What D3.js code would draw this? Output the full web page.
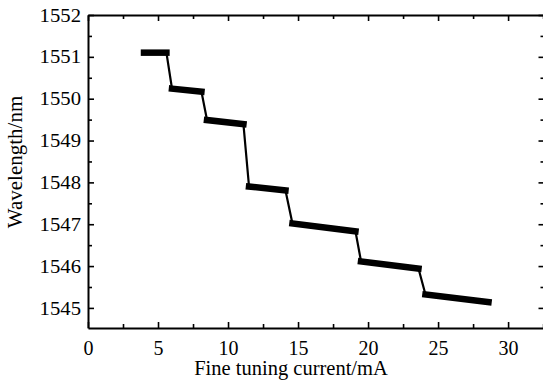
<!DOCTYPE html>
<html>
<head>
<meta charset="utf-8">
<script src="https://cdn.jsdelivr.net/npm/d3@7"></script>
<style>
html, body { margin: 0; padding: 0; background: #fff; }
svg { display: block; }
text { font-family: "Liberation Serif", "Times New Roman", serif; fill: #000; }
</style>
</head>
<body>
<svg id="chart" width="543" height="391"></svg>
<script>
// Plateau start/end points (consecutive pairs form one plateau)
const current = [4.0, 5.6, 6.0, 8.1, 8.5, 11.1, 11.5, 14.1, 14.6, 19.1, 19.5, 23.6, 24.1, 28.6];
const wavelength = [1551.10, 1551.10, 1550.24, 1550.17, 1549.49, 1549.39, 1547.90, 1547.81, 1547.02, 1546.83, 1546.11, 1545.94, 1545.32, 1545.14];
const xTicks = [0, 5, 10, 15, 20, 25, 30];
const yTicks = [1545, 1546, 1547, 1548, 1549, 1550, 1551, 1552];
const xLabel = "Fine tuning current/mA";
const yLabel = "Wavelength/nm";

(function () {
const svg = d3.select("#chart");
const mL = 88, mR = 544.5, mT = 15, mB = 328;
const x = d3.scaleLinear().domain([0, 32.6]).range([mL, mR]);
const y = d3.scaleLinear().domain([1544.52, 1552]).range([mB, mT]);

const pts = current.map((c, i) => ({ x: c, y: wavelength[i] }));

function styleAxis(g) {
  g.selectAll(".domain").attr("stroke", "#000").attr("stroke-width", 2);
  g.selectAll(".tick line").attr("stroke", "#000").attr("stroke-width", 1.6);
  g.selectAll(".tick text").style("font-family", '"Liberation Serif", serif');
}
const xMinor = d3.range(0, 33, 2.5).filter(v => !xTicks.includes(v));
const yMinor = d3.range(1544.5, 1552.01, 0.5).filter(v => !yTicks.includes(v) && v >= 1544.52);

function minor(axisFn, scale, vals, transform) {
  svg.append("g").attr("transform", transform)
    .call(axisFn(scale).tickValues(vals).tickSize(4).tickFormat(""))
    .call(g => { g.select(".domain").remove(); g.selectAll(".tick line").attr("stroke", "#000").attr("stroke-width", 1.6); });
}
minor(d3.axisTop, x, xMinor, `translate(0,${mB})`);
minor(d3.axisBottom, x, xMinor, `translate(0,${mT})`);
minor(d3.axisRight, y, yMinor, `translate(${mL},0)`);
minor(d3.axisLeft, y, yMinor, `translate(${mR},0)`);

svg.append("g").attr("transform", `translate(0,${mB})`)
  .call(d3.axisBottom(x).tickValues(xTicks).tickSizeInner(-6).tickSizeOuter(0).tickPadding(12.5).tickFormat(d3.format("d")))
  .call(styleAxis)
  .call(g => g.selectAll(".tick text").style("font-size", "20px"));
svg.append("g").attr("transform", `translate(0,${mT})`)
  .call(d3.axisTop(x).tickValues(xTicks).tickSizeInner(-6).tickSizeOuter(0).tickFormat(""))
  .call(styleAxis);
svg.append("g").attr("transform", `translate(${mL},0)`)
  .call(d3.axisLeft(y).tickValues(yTicks).tickSizeInner(-6).tickSizeOuter(0).tickFormat(d3.format("d")))
  .call(styleAxis)
  .call(g => g.selectAll(".tick text").style("font-size", "19px").attr("transform", "scale(1.09,1)").attr("x", -7 / 1.09));
svg.append("g").attr("transform", `translate(${mR},0)`)
  .call(d3.axisRight(y).tickValues(yTicks).tickSizeInner(-6).tickSizeOuter(0).tickFormat(""))
  .call(styleAxis);

svg.append("path")
  .datum(pts)
  .attr("fill", "none")
  .attr("stroke", "#000")
  .attr("stroke-width", 2.2)
  .attr("d", d3.line().x(d => x(d.x)).y(d => y(d.y)));

const plateaus = d3.range(0, pts.length, 2).map(i => [pts[i], pts[i + 1]]);
svg.append("g").selectAll("line")
  .data(plateaus)
  .join("line")
  .attr("x1", d => x(d[0].x)).attr("y1", d => y(d[0].y))
  .attr("x2", d => x(d[1].x)).attr("y2", d => y(d[1].y))
  .attr("stroke", "#000")
  .attr("stroke-width", 6.5)
  .attr("stroke-linecap", "square");

svg.append("text")
  .attr("x", 291).attr("y", 375)
  .attr("text-anchor", "middle")
  .style("font-size", "20.5px")
  .text(xLabel);
svg.append("text")
  .attr("transform", `translate(22,162) rotate(-90)`)
  .attr("text-anchor", "middle")
  .style("font-size", "21px")
  .text(yLabel);
})();
</script>
</body>
</html>
